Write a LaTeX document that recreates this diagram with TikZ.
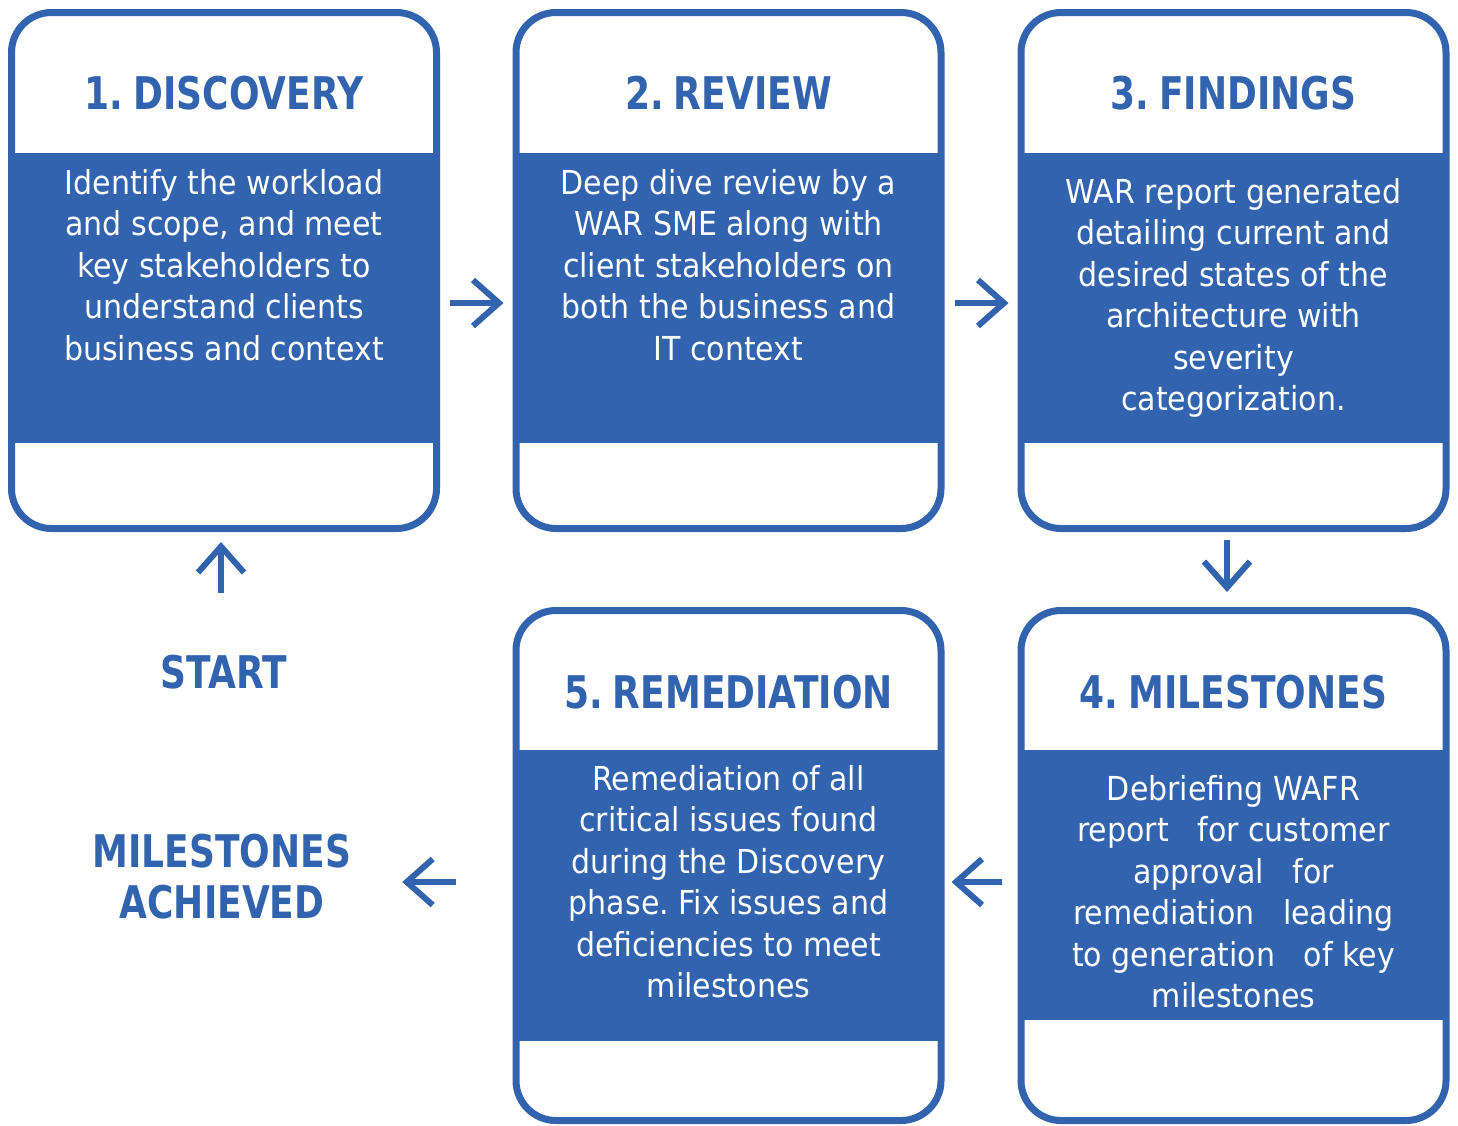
\documentclass[tikz,border=0pt]{standalone}
\usepackage{fontspec}
\setmainfont{DejaVu Sans}[FakeStretch=0.91]
\newfontfamily\hfont{DejaVu Sans}[FakeStretch=0.8,WordSpace=0.8]
\usetikzlibrary{arrows.meta}
\definecolor{wblue}{RGB}{50,99,175}
\frenchspacing
\begin{document}
\begin{tikzpicture}[x=1pt,y=-1pt,
 card/.style={draw=wblue, line width=7pt, fill=white, rounded corners=40pt, minimum width=425pt, inner sep=0pt},
 band/.style={fill=wblue},
 ttl/.style={font=\hfont\bfseries\fontsize{45}{50}\selectfont, text=wblue, inner sep=0pt, anchor=base},
 body/.style={font=\frenchspacing\fontsize{33}{41.5}\selectfont, text=white, align=center, inner sep=0pt, anchor=north},
 lbl/.style={font=\hfont\bfseries\fontsize{45}{51}\selectfont, text=wblue, align=center, inner sep=0pt},
 flow/.style={draw=wblue, line width=6pt, -{Straight Barb[length=26pt,width=46pt]}}
]
\useasboundingbox (0,0) rectangle (1458,1125);
% cards
\node[card, minimum height=516pt] (b1) at (224,270.5) {};
\node[card, minimum height=516pt] (b2) at (728.5,270.5) {};
\node[card, minimum height=516pt] (b3) at (1233.5,270.5) {};
\node[card, minimum height=510pt] (b5) at (728.5,865.5) {};
\node[card, minimum height=510pt] (b4) at (1233.5,865.5) {};
% bands
\fill[band] (11.5,153) rectangle (436.5,443);
\fill[band] (516,153) rectangle (941,443);
\fill[band] (1021,153) rectangle (1446,443);
\fill[band] (516,750) rectangle (941,1041);
\fill[band] (1021,750) rectangle (1446,1020);
% titles
\node[ttl] (t1) at (224,109) {1. DISCOVERY};
\node[ttl] (t2) at (728.5,109) {2. REVIEW};
\node[ttl] (t3) at (1233.5,109) {3. FINDINGS};
\node[ttl] (t5) at (728.5,708) {5. REMEDIATION};
\node[ttl] (t4) at (1233.5,708) {4. MILESTONES};
% bodies
\node[body] (d1) at (224,169) {\rule{0pt}{25pt}Identify the workload\\and scope, and meet\\key stakeholders to\\understand clients\\business and context};
\node[body] (d2) at (728.5,169) {\rule{0pt}{25pt}Deep dive review by a\\WAR SME along with\\client stakeholders on\\both the business and\\IT context};
\node[body] (d3) at (1233.5,178) {\rule{0pt}{25pt}WAR report generated\\detailing current and\\desired states of the\\architecture with\\severity\\categorization.};
\node[body] (d5) at (728.5,765) {\rule{0pt}{25pt}Remediation of all\\critical issues found\\during the Discovery\\phase. Fix issues and\\deficiencies to meet\\milestones};
\node[body] (d4) at (1233.5,775) {\rule{0pt}{25pt}Debriefing WAFR\\report\ \ \ for customer\\approval\ \ \ for\\remediation\ \ \ leading\\to generation\ \ \ of key\\milestones};
% side labels
\node[lbl] (start) at (224,672) {START};
\node[lbl, minimum width=360pt] (ms) at (222,877) {MILESTONES\\ACHIEVED};
% connectors
\draw[flow, shorten <=10pt, shorten >=9pt] ([yshift=-32.5pt]b1.east) -- ([yshift=-32.5pt]b2.west);
\draw[flow, shorten <=10pt, shorten >=9pt] ([yshift=-32.5pt]b2.east) -- ([yshift=-32.5pt]b3.west);
\draw[flow, shorten <=8pt, shorten >=15pt] ([xshift=-6.5pt]b3.south) -- ([xshift=-6.5pt]b4.north);
\draw[flow, shorten <=16pt, shorten >=7pt] ([yshift=-16.5pt]b4.west) -- ([yshift=-16.5pt]b5.east);
\draw[flow, shorten <=57pt] ([yshift=-16.5pt]b5.west) -- ([yshift=-16.5pt]b5.west -| ms.east);
\draw[flow, shorten <=62pt, shorten >=10pt] ([xshift=-3pt]start.north) -- ([xshift=-3pt]b1.south);
\end{tikzpicture}
\end{document}
